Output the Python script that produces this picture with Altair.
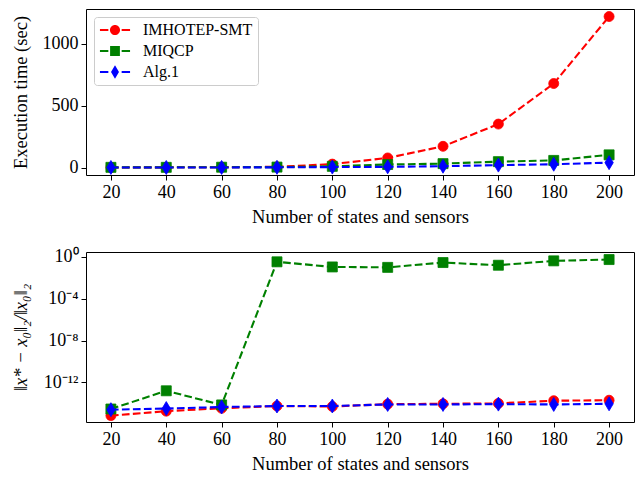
import altair as alt
import pandas as pd

sizes = [20, 40, 60, 80, 100, 120, 140, 160, 180, 200]
series_names = ["IMHOTEP-SMT", "MIQCP", "Alg.1"]
series_colors = ["#ff0000", "#008000", "#0000ff"]

time_imhotep = [1, 2, 3, 6, 28, 78, 172, 352, 680, 1222]
time_miqcp = [2, 2, 3, 4, 10, 25, 32, 48, 58, 103]
time_alg1 = [1, 1, 1, 2, 4, 6, 11, 20, 27, 40]

err_imhotep = [6.8e-16, 1.8e-15, 3.4e-15, 5.6e-15, 5.0e-15, 8.5e-15, 9.1e-15, 1.0e-14, 1.8e-14, 2.0e-14]
err_miqcp = [2.9e-15, 1.6e-13, 7.1e-15, 0.34, 0.11, 0.10, 0.29, 0.16, 0.42, 0.56]
err_alg1 = [2.5e-15, 3.2e-15, 4.5e-15, 5.6e-15, 5.6e-15, 7.9e-15, 7.9e-15, 8.5e-15, 7.9e-15, 9.1e-15]

time_ticks = [0, 500, 1000]
err_ticks = [1, 1e-4, 1e-8, 1e-12]
err_tick_labels = ["10⁰", "10⁻⁴", "10⁻⁸", "10⁻¹²"]

rows = []
for name, tl, el in zip(series_names,
                        [time_imhotep, time_miqcp, time_alg1],
                        [err_imhotep, err_miqcp, err_alg1]):
    for n, tv, ev in zip(sizes, tl, el):
        rows.append({"series": name, "n": n, "time": tv, "err": ev})
df = pd.DataFrame(rows)

FONT = "Liberation Serif"
W = 548

# marker shapes used in the plots
plot_shapes = ["circle", "square", "M0,-1L0.6,0L0,1L-0.6,0Z"]
plot_sizes = [100, 100, 196]

# legend symbols: dash - marker - dash
dash = "M-2.15,-0.15L-0.95,-0.15L-0.95,0.15L-2.15,0.15Z M0.95,-0.15L2.15,-0.15L2.15,0.15L0.95,0.15Z "
legend_paths = [
    dash + "M0.72,0A0.72,0.72 0 1,1 -0.72,0A0.72,0.72 0 1,1 0.72,0Z",
    dash + "M-0.7,-0.7L0.7,-0.7L0.7,0.7L-0.7,0.7Z",
    dash + "M0,-0.95L0.57,0L0,0.95L-0.57,0Z",
]

x_enc = alt.X("n:Q", scale=alt.Scale(domain=[11, 209], nice=False, zero=False),
              axis=alt.Axis(values=sizes, title="Number of states and sensors", titlePadding=6))


def panel(ycol, yscale, yaxis, with_legend, height):
    y_enc = alt.Y(f"{ycol}:Q", scale=yscale, axis=yaxis)
    layers = []
    for name, col, shp, sz in zip(series_names, series_colors, plot_shapes, plot_sizes):
        base = alt.Chart(df).transform_filter(alt.datum.series == name)
        layers.append(base.mark_line(color=col, strokeDash=[7.7, 3.3], strokeWidth=2.1)
                      .encode(x=x_enc, y=y_enc))
        layers.append(base.mark_point(color=col, filled=True, opacity=1, shape=shp, size=sz,
                                      stroke=col, strokeWidth=0.8)
                      .encode(x=x_enc, y=y_enc))
    if with_legend:
        leg = alt.Legend(title=None, orient="top-left", offset=8, padding=5,
                         fillColor="white", strokeColor="#cccccc", cornerRadius=3,
                         symbolSize=196, symbolOffset=8, labelOffset=20,
                         labelFont=FONT, labelFontSize=16, labelColor="black",
                         rowPadding=5, symbolOpacity=1, symbolStrokeWidth=0)
        layers.append(alt.Chart(df).mark_point(filled=True, opacity=0).encode(
            x=x_enc, y=y_enc,
            color=alt.Color("series:N", scale=alt.Scale(domain=series_names, range=series_colors), legend=leg),
            shape=alt.Shape("series:N", scale=alt.Scale(domain=series_names, range=legend_paths), legend=leg),
        ))
    return alt.layer(*layers).properties(width=W, height=height)


top = panel(
    "time",
    alt.Scale(domain=[-60, 1283], nice=False, zero=False),
    alt.Axis(values=time_ticks, format="d", title="Execution time (sec)",
             minExtent=48, maxExtent=48, titlePadding=8),
    True, 166)

label_expr = (f"datum.value > 0.1 ? '{err_tick_labels[0]}' : datum.value > 1e-6 ? '{err_tick_labels[1]}' : "
              f"datum.value > 1e-10 ? '{err_tick_labels[2]}' : '{err_tick_labels[3]}'")
bottom = panel(
    "err",
    alt.Scale(type="log", domain=[1.66e-16, 2.95], nice=False),
    alt.Axis(values=err_ticks, labelExpr=label_expr, title="‖x* − x₀‖₂/‖x₀‖₂",
             titleFontStyle="italic", minExtent=48, maxExtent=48, titlePadding=8),
    False, 170)

chart = alt.vconcat(top, bottom, spacing=21).properties(
    padding={"left": 2, "top": 0, "right": 0, "bottom": 0}
).configure_axis(
    labelFont=FONT, labelFontSize=18, labelColor="black",
    titleFont=FONT, titleFontSize=18.5, titleFontWeight="normal", titleColor="black",
    tickColor="black", tickSize=5, tickWidth=1, domain=False, grid=False, labelPadding=3,
).configure_view(stroke="black", strokeWidth=1)

chart.save("out.html", embed_options={"renderer": "svg", "actions": False})
